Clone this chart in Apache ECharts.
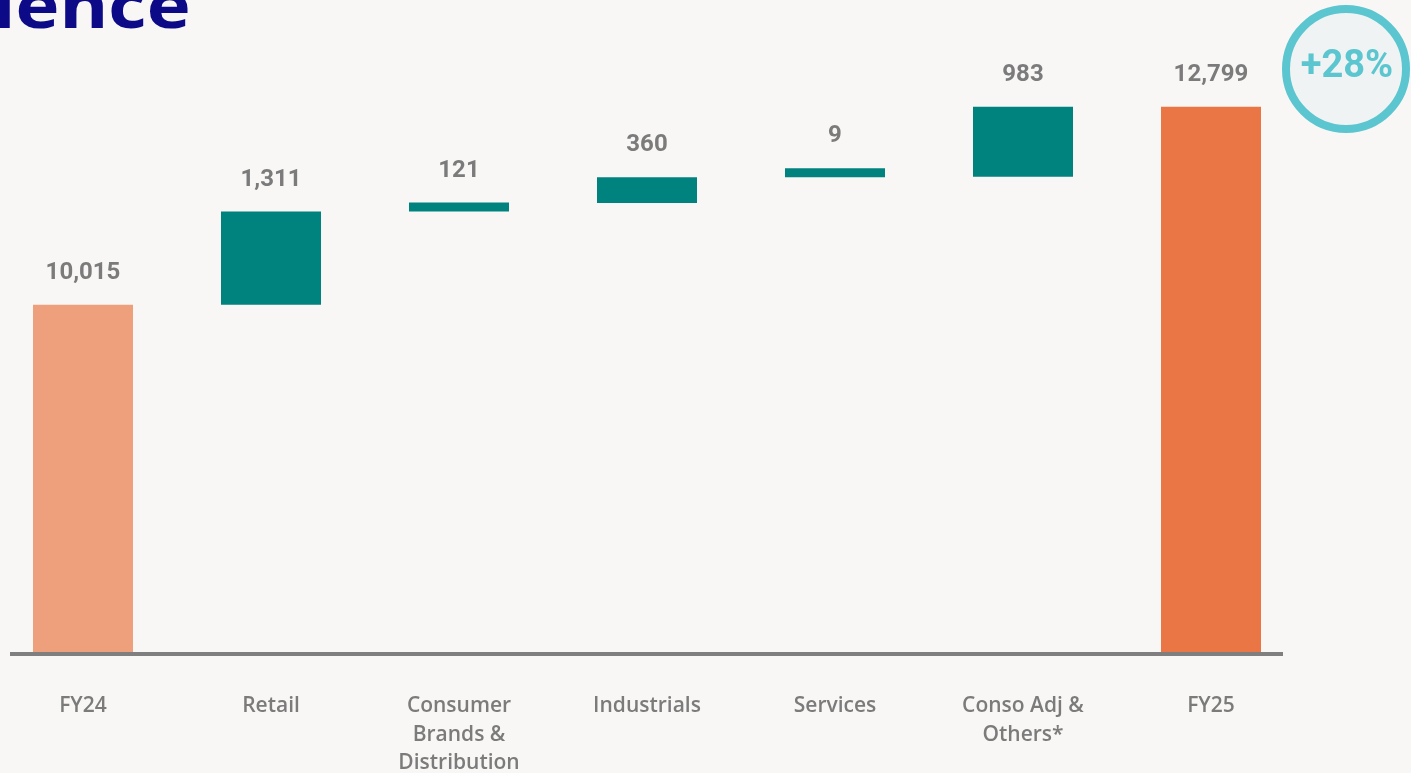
<!DOCTYPE html>
<html>
<head>
<meta charset="utf-8">
<script src="https://cdn.jsdelivr.net/npm/echarts@6/dist/echarts.min.js"></script>
<style>
html,body{margin:0;padding:0;background:#F8F7F5;}
#chart{width:1411px;height:773px;}
</style>
</head>
<body>
<div id="chart"></div>
<script>
const categories = ['FY24', 'Retail', 'Consumer\nBrands &\nDistribution', 'Industrials', 'Services', 'Conso Adj &\nOthers*', 'FY25'];
const values = [10015, 1311, 121, 360, 9, 983, 12799];
const isTotal = [true, false, false, false, false, false, true];
const totalColors = ['#EE9F7B', null, null, null, null, null, '#EA7645'];
const deltaColor = '#00827F';

// invisible base for the floating bars (running sum of previous steps)
const base = [];
let run = 0;
values.forEach((v, i) => {
  if (isTotal[i]) { base.push(0); run = v; }
  else { base.push(run); run += v; }
});

const chart = echarts.init(document.getElementById('chart'));
const fnt = 'Roboto, "Noto Sans", sans-serif';
chart.setOption({
  backgroundColor: '#F8F7F5',
  animation: false,
  grid: { left: -11, width: 1316, top: 57, bottom: 119, containLabel: false, outerBoundsMode: 'none' },
  xAxis: {
    type: 'category',
    data: categories,
    axisLine: { show: false },
    axisTick: { show: false },
    axisLabel: {
      interval: 0, margin: 38, color: '#7B7B7B', fontFamily: '"Open Sans", Roboto, sans-serif',
      fontWeight: 600, fontSize: 21, lineHeight: 28.5
    }
  },
  yAxis: {
    type: 'value', min: 5100, max: 13500,
    show: false, splitLine: { show: false }
  },
  series: [
    {
      type: 'bar', stack: 'w', data: base, barWidth: 100,
      itemStyle: { color: 'rgba(0,0,0,0)' }, silent: true
    },
    {
      type: 'bar', stack: 'w', barWidth: 100, barMinHeight: 9,
      data: values.map((v, i) => ({
        value: v,
        itemStyle: { color: isTotal[i] ? totalColors[i] : deltaColor }
      })),
      label: {
        show: true, position: 'top', distance: 20,
        color: '#7B7B7B', fontFamily: fnt, fontWeight: 'bold', fontSize: 24,
        formatter: p => p.value.toLocaleString('en-US')
      }
    }
  ],
  graphic: [
    {
      type: 'line', z: 100,
      shape: { x1: 10, y1: 654, x2: 1283, y2: 654 },
      style: { stroke: '#7F7F7F', lineWidth: 4 }
    },
    {
      type: 'text', x: -7, y: 10, scaleX: 1.2,
      style: { text: 'ience', fill: '#0C0A87', font: 'bold 62px "Noto Sans", sans-serif', align: 'left', verticalAlign: 'middle' }
    },
    {
      type: 'circle', shape: { cx: 1346, cy: 69, r: 60 },
      style: { fill: '#EFF3F3', stroke: '#5BC6D0', lineWidth: 8 }
    },
    {
      type: 'text', x: 1347, y: 67,
      style: { text: '+28%', fill: '#5BC6D0', font: 'bold 38px Roboto, sans-serif', align: 'center', verticalAlign: 'middle' }
    }
  ]
});
</script>
</body>
</html>
